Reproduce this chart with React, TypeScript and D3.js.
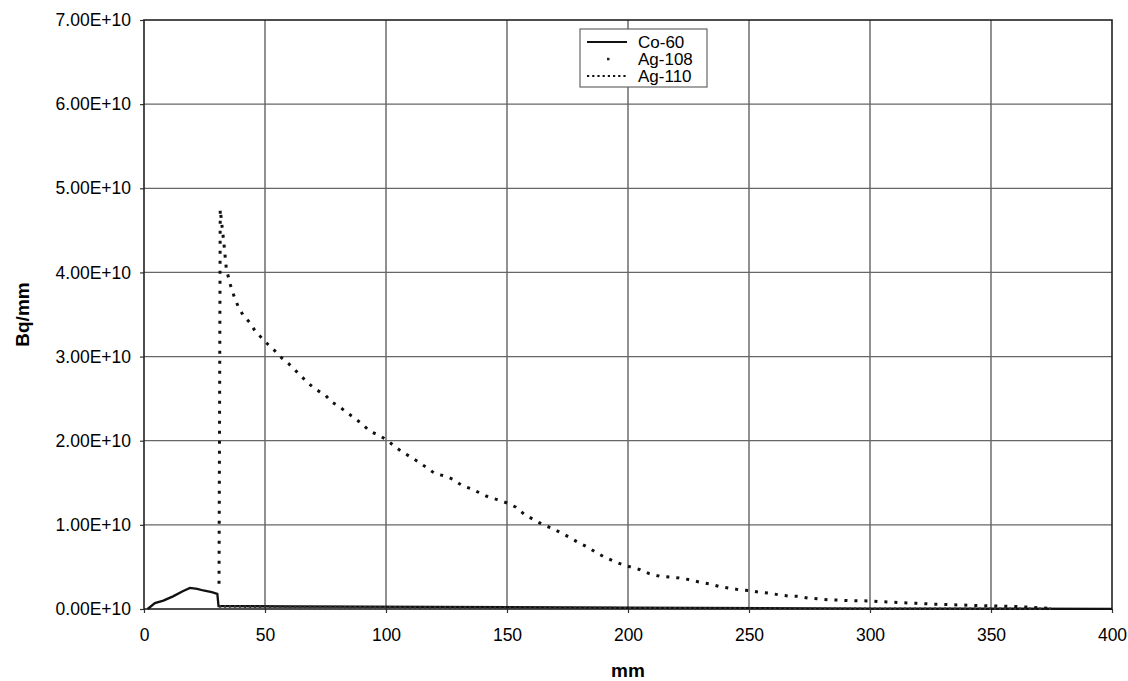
import React, { useEffect, useRef } from 'react';
import * as d3 from 'd3';

// Ag-110 activity profile (mm, Bq/mm in units of 1E10)
const ag110Mm = [31, 31.5, 33, 34, 35.5, 37.3, 39, 41, 43.8, 46, 49, 51.4, 54, 57, 59.6, 62.4, 65.2, 68, 71, 75, 77.6, 81, 84, 87, 90.4, 93.4, 96.8, 100.3, 103.7, 106.5, 110, 113.3, 116.8, 120.2, 124.4, 127.8, 131.3, 135, 138.8, 142.3, 146, 150, 153.7, 157.4, 161.2, 165, 168.5, 172, 175.3, 179.5, 183, 186.4, 190, 194, 197.4, 201, 204.7, 208.8, 213, 217, 221, 225, 229.5, 233.5, 237.5, 241.5, 245.6, 249.7, 254, 258, 262, 266, 270.4, 274.5, 278.6, 282.8, 287, 291, 295, 300, 304, 308, 312.4, 316.5, 320.7, 325, 329, 333, 337, 341.3, 345.5, 349.6, 353.7, 358, 362, 366.8, 371, 374.4];
const ag110Val = [0.3, 4.75, 4.35, 4.05, 3.87, 3.71, 3.59, 3.49, 3.4, 3.3, 3.21, 3.14, 3.07, 2.98, 2.92, 2.84, 2.76, 2.68, 2.61, 2.54, 2.46, 2.4, 2.33, 2.27, 2.19, 2.11, 2.07, 2.01, 1.93, 1.87, 1.81, 1.75, 1.68, 1.61, 1.58, 1.54, 1.47, 1.43, 1.38, 1.33, 1.3, 1.26, 1.21, 1.12, 1.06, 1.0, 0.96, 0.91, 0.86, 0.79, 0.74, 0.68, 0.62, 0.57, 0.53, 0.5, 0.47, 0.42, 0.39, 0.38, 0.37, 0.35, 0.32, 0.3, 0.27, 0.25, 0.23, 0.22, 0.2, 0.19, 0.17, 0.155, 0.15, 0.13, 0.12, 0.11, 0.105, 0.1, 0.099, 0.095, 0.087, 0.083, 0.075, 0.071, 0.067, 0.059, 0.055, 0.051, 0.048, 0.044, 0.04, 0.037, 0.035, 0.032, 0.028, 0.02, 0.012, 0.008];

// Co-60
const co60Mm = [1.5, 4.5, 8, 12, 16, 19, 22, 24.5, 28, 30.3, 30.8, 32, 60, 120, 200, 300, 400];
const co60Val = [0, 0.07, 0.1, 0.15, 0.21, 0.25, 0.24, 0.22, 0.2, 0.18, 0.035, 0.035, 0.03, 0.025, 0.015, 0.005, 0.002];

// Ag-108
const ag108Mm = [31, 60, 100, 150, 200, 250, 300, 375];
const ag108Val = [0.03, 0.025, 0.02, 0.015, 0.01, 0.005, 0.003, 0.002];

const xTicks = [0, 50, 100, 150, 200, 250, 300, 350, 400];
const yTicks = [0, 1, 2, 3, 4, 5, 6, 7];
const seriesNames = ['Co-60', 'Ag-108', 'Ag-110'];

const FONT = "'Liberation Sans', Arial, sans-serif";

const App = () => {
  const ref = useRef<SVGSVGElement>(null);

  useEffect(() => {
    const svg = d3.select(ref.current);
    svg.selectAll('*').remove();

    const left = 144, right = 1112, top = 20, bottom = 609;

    const x = d3.scaleLinear().domain([0, 400]).range([left, right]);
    const y = d3.scaleLinear().domain([0, 7]).range([bottom, top]);

    svg.append('rect').attr('width', 1128).attr('height', 681).attr('fill', '#fff');

    // grid
    svg.append('g')
      .selectAll('line')
      .data(xTicks.slice(1, -1))
      .join('line')
      .attr('x1', d => x(d)).attr('x2', d => x(d))
      .attr('y1', top).attr('y2', bottom)
      .attr('stroke', '#555').attr('stroke-width', 1.3);

    svg.append('g')
      .selectAll('line')
      .data(yTicks.slice(1, -1))
      .join('line')
      .attr('x1', left).attr('x2', right)
      .attr('y1', d => y(d)).attr('y2', d => y(d))
      .attr('stroke', '#666').attr('stroke-width', 1.3);

    // axes
    const xAxis = d3.axisBottom(x).tickValues(xTicks).tickSize(4).tickPadding(16);
    const gx = svg.append('g').attr('transform', `translate(0,${bottom})`).call(xAxis);
    gx.select('.domain').remove();
    gx.selectAll('line').attr('stroke', '#333').attr('stroke-width', 1.2);
    gx.selectAll('text')
      .style('font-family', FONT).style('font-size', '17.5px').attr('fill', '#000');

    const yAxis = d3.axisLeft(y).tickValues(yTicks).tickSize(4).tickPadding(9)
      .tickFormat(d => `${(+d).toFixed(2)}E+10`);
    const gy = svg.append('g').attr('transform', `translate(${left},0)`).call(yAxis);
    gy.select('.domain').remove();
    gy.selectAll('line').attr('stroke', '#333').attr('stroke-width', 1.2);
    gy.selectAll('text')
      .style('font-family', FONT).style('font-size', '17.5px').attr('fill', '#000');

    // plot border
    svg.append('rect')
      .attr('x', left).attr('y', top)
      .attr('width', right - left).attr('height', bottom - top)
      .attr('fill', 'none').attr('stroke', '#222').attr('stroke-width', 1.6);

    const line = d3.line<[number, number]>()
      .x(d => x(d[0]))
      .y(d => y(d[1]));

    const zip = (a: number[], b: number[]) => a.map((v, i) => [v, b[i]] as [number, number]);

    // Co-60
    svg.append('path')
      .attr('d', line(zip(co60Mm, co60Val)))
      .attr('fill', 'none').attr('stroke', '#111').attr('stroke-width', 2.3);

    // Ag-108
    svg.append('path')
      .attr('d', line(zip(ag108Mm, ag108Val)))
      .attr('fill', 'none').attr('stroke', '#333').attr('stroke-width', 2.5)
      .attr('stroke-dasharray', '2 3');

    // Ag-110
    svg.append('path')
      .attr('d', line(zip(ag110Mm, ag110Val)))
      .attr('fill', 'none').attr('stroke', '#111').attr('stroke-width', 3)
      .attr('stroke-dasharray', '3 7');

    // axis titles
    svg.append('text')
      .attr('transform', `translate(29,${(top + bottom) / 2}) rotate(-90)`)
      .attr('text-anchor', 'middle')
      .style('font-family', FONT).style('font-size', '19px').style('font-weight', 'bold')
      .text('Bq/mm');

    svg.append('text')
      .attr('x', (left + right) / 2).attr('y', 677)
      .attr('text-anchor', 'middle')
      .style('font-family', FONT).style('font-size', '19px').style('font-weight', 'bold')
      .text('mm');

    // legend
    const lg = svg.append('g');
    lg.append('rect')
      .attr('x', 580).attr('y', 29).attr('width', 127).attr('height', 58)
      .attr('fill', '#fff').attr('stroke', '#666').attr('stroke-width', 1.2);

    seriesNames.forEach((name, i) => {
      const ly = 42 + i * 17;
      if (i === 0) {
        lg.append('line').attr('x1', 587).attr('x2', 627).attr('y1', ly).attr('y2', ly)
          .attr('stroke', '#111').attr('stroke-width', 2);
      } else if (i === 1) {
        lg.append('rect').attr('x', 607).attr('y', ly - 1.2).attr('width', 2.5).attr('height', 2.5)
          .attr('fill', '#222');
      } else {
        lg.append('line').attr('x1', 587).attr('x2', 627).attr('y1', ly).attr('y2', ly)
          .attr('stroke', '#111').attr('stroke-width', 2.2).attr('stroke-dasharray', '2.2 3');
      }
      lg.append('text')
        .attr('x', 638).attr('y', ly)
        .attr('dy', '0.35em')
        .style('font-family', FONT).style('font-size', '17px')
        .text(name);
    });
  }, []);

  return (
    <svg
      ref={ref}
      width={1128}
      height={681}
      style={{ position: 'absolute', left: 0, top: 0, display: 'block' }}
    />
  );
};

export default App;
